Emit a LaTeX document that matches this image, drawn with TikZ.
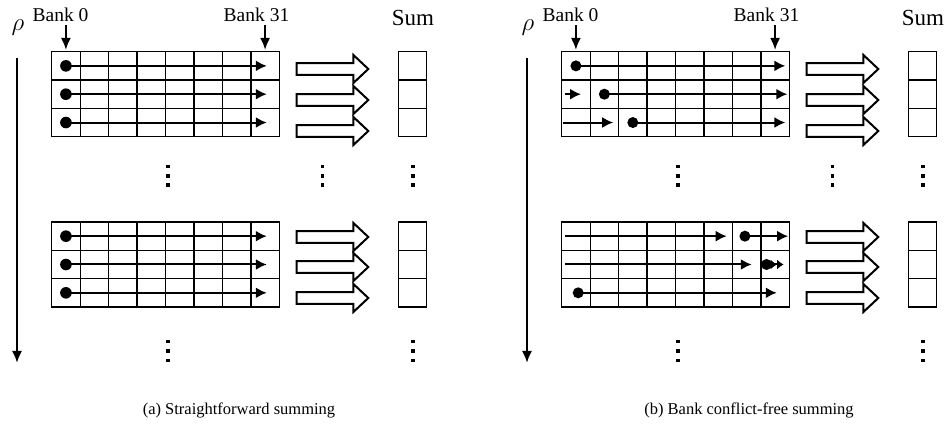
\documentclass[tikz,border=0pt]{standalone}
\usepackage{fontspec}
\setmainfont{Liberation Serif}
\usetikzlibrary{arrows.meta}

\begin{document}
\begin{tikzpicture}[x=1pt,y=1pt,
	gridline/.style={line width=1.3pt},
	rowarrow/.style={line width=2pt,-{Latex[length=11pt,width=11pt]}},
	downarrow/.style={line width=2pt,-{Latex[length=12pt,width=10pt]}},
	blockarrow/.style={line width=2pt},
	banklabel/.style={font=\fontsize{19.5}{22}\selectfont}]
	\useasboundingbox (0,0) rectangle (946,441);
	% parts shared by both panels
	\foreach \p/\s/\txt in {a/0/{(a) Straightforward summing},b/510/{(b) Bank conflict-free summing}}{
	\begin{scope}[shift={(\s,0)}]
		\node[] (R\p) at (18,413) {\fontsize{24}{26}\selectfont$\rho$};
		\coordinate (Rt\p) at (17,383);
		\coordinate (Rb\p) at (17,78);
		\draw[downarrow] (Rt\p) -- (Rb\p);
		\node[banklabel] (B0\p) at (60.5,426) {Bank 0};
		\node[banklabel] (B31\p) at (256.5,426) {Bank 31};
		\node[font=\fontsize{23}{26}\selectfont] (S\p) at (413,423) {Sum};
		\node[font=\fontsize{16.5}{19}\selectfont] (C\p) at (239,31) {\txt};
		\coordinate (K0\p) at (65.9,391);
		\coordinate (K31\p) at (265.1,391);
		\draw[downarrow] (K0\p |- B0\p.south) -- (K0\p);
		\draw[downarrow] (K31\p |- B31\p.south) -- (K31\p);
		% grids and sum columns
		\foreach \gy in {304.3,134}{
			\begin{scope}[shift={(51.7,\gy)},x=28.45pt,y=28.33pt]
				\draw[gridline] (0,0) rectangle (8,3);
				\foreach \i in {1,...,7} \draw[gridline] (\i,0) -- (\i,3);
				\foreach \j in {1,2} \draw[gridline] (0,\j) -- (8,\j);
			\end{scope}
			\begin{scope}[shift={(398.3,\gy)},x=28.4pt,y=28.33pt]
				\draw[gridline] (0,0) rectangle (1,3);
				\draw[gridline] (0,1) -- (1,1);
				\draw[gridline] (0,2) -- (1,2);
			\end{scope}
		}
		% block arrows
		\foreach \y in {372,341,310,204,174,143}
			\draw[blockarrow] (296.7,\y-5.85) -- (353.4,\y-5.85) -- (353.4,\y-14) -- (368.3,\y) -- (353.4,\y+14) -- (353.4,\y+5.85) -- (296.7,\y+5.85) -- cycle;
		% vertical dots
		\foreach \x in {168,322.7,413}
			\foreach \y in {274.3,265,256}
				\fill (\x-1.6,\y-1.6) rectangle ++(3.2,3.2);
		\foreach \x in {168,413}
			\foreach \y in {99.3,90,80.3}
				\fill (\x-1.6,\y-1.6) rectangle ++(3.2,3.2);
	\end{scope}
	}
	% (a) rows
	\foreach \gy in {304.3,134}{
		\begin{scope}[shift={(51.7,\gy)},x=28.45pt,y=28.33pt]
			\foreach \r in {0.5,1.5,2.5}{
				\fill (0.5,\r) circle (5.8pt);
				\draw[rowarrow] (0.5,\r) -- (7.56,\r);
			}
		\end{scope}
	}
	% (b) upper rows
	\begin{scope}[shift={(561.7,304.3)},x=28.45pt,y=28.33pt]
		\fill (0.5,2.5) circle (5.5pt);
		\draw[rowarrow] (0.5,2.5) -- (7.86,2.5);
		\draw[rowarrow] (0.12,1.5) -- (0.68,1.5);
		\fill (1.5,1.5) circle (5.5pt);
		\draw[rowarrow] (1.5,1.5) -- (7.93,1.5);
		\draw[rowarrow] (0.05,0.5) -- (1.81,0.5);
		\fill (2.5,0.5) circle (5.5pt);
		\draw[rowarrow] (2.5,0.5) -- (7.86,0.5);
	\end{scope}
	% (b) lower rows
	\begin{scope}[shift={(561.7,134)},x=28.45pt,y=28.33pt]
		\draw[rowarrow] (0.12,2.5) -- (5.8,2.5);
		\fill (6.44,2.5) circle (5.5pt);
		\draw[rowarrow] (6.44,2.5) -- (7.96,2.5);
		\draw[rowarrow] (0.12,1.5) -- (6.68,1.5);
		\fill (7.2,1.5) circle (5.5pt);
		\draw[line width=2pt,-{Latex[length=6.5pt,width=10pt]Latex[length=6.5pt,width=10pt]}] (7.2,1.5) -- (7.8,1.5);
		\fill (0.58,0.5) circle (5.5pt);
		\draw[rowarrow] (0.58,0.5) -- (7.56,0.5);
	\end{scope}
\end{tikzpicture}
\end{document}
